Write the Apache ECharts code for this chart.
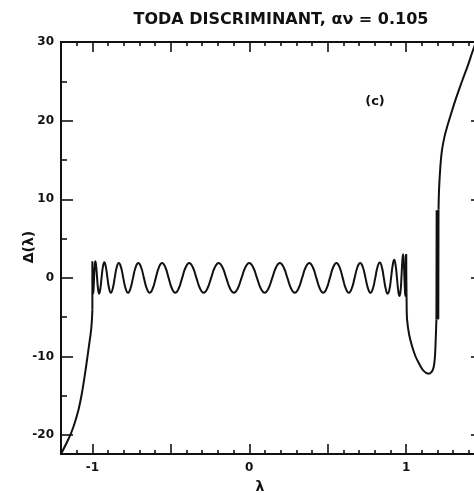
<!DOCTYPE html>
<html>
<head>
<meta charset="utf-8">
<script src="https://cdn.jsdelivr.net/npm/echarts@6/dist/echarts.min.js"></script>
<style>
  html, body { margin: 0; padding: 0; background: #fff; }
  #chart { width: 474px; height: 495px; }
</style>
</head>
<body>
<div id="chart"></div>
<script>
// Axis ranges
const lambdaRange = [-1.2, 1.49];
const deltaRange = [-22.4, 30];

// Tick positions and labels
const xMajorTicks = [-1, -0.5, 0, 0.5, 1];
const xMinorTicks = [-1.1, -0.9, -0.8, -0.7, -0.6, -0.4, -0.3, -0.2, -0.1,
                     0.1, 0.2, 0.3, 0.4, 0.6, 0.7, 0.8, 0.9, 1.1, 1.2, 1.3, 1.4];
const xLabels = [-1, 0, 1];
const yMajorTicks = [-20, -10, 0, 10, 20, 30];
const yMinorTicks = [-15, -5, 5, 15, 25];
const yLabels = [-20, -10, 0, 10, 20, 30];

// Δ(λ) below the band edge λ = -1
const leftBranch = [
  [-1.2, -22.4], [-1.15, -20.4], [-1.12, -18.9], [-1.09, -16.9], [-1.068, -14.8],
  [-1.05, -12.6], [-1.036, -10.7], [-1.02, -8.4], [-1.008, -6.6], [-1.002, -5.0],
  [-1.0, -4.0]
];

// Δ(λ) inside the band, -1 < λ < 1
const bandOscillation = [
  [-1.0, -4.0], [-1.0, 2.1], [-0.9997, 1.45], [-0.9988, 0], [-0.9973, -1.45],
  [-0.9952, -2.0], [-0.9925, -1.45], [-0.9892, 0], [-0.9853, 1.45], [-0.9808, 2.1],
  [-0.9757, 1.45], [-0.9700, 0], [-0.9638, -1.4], [-0.9569, -2.0], [-0.9495, -1.4],
  [-0.9415, 0], [-0.9330, 1.4], [-0.9239, 2.0], [-0.9142, 1.4], [-0.9040, 0],
  [-0.8932, -1.35], [-0.8819, -1.9], [-0.8701, -1.35], [-0.8577, 0], [-0.8449, 1.35],
  [-0.8315, 1.9], [-0.8176, 1.35], [-0.8032, 0], [-0.7883, -1.35], [-0.7730, -1.9],
  [-0.7572, -1.35], [-0.7410, 0], [-0.7242, 1.35], [-0.7071, 1.9], [-0.6895, 1.35],
  [-0.6716, 0], [-0.6532, -1.35], [-0.6344, -1.9], [-0.6152, -1.35], [-0.5957, 0],
  [-0.5758, 1.35], [-0.5556, 1.9], [-0.5350, 1.35], [-0.5141, 0], [-0.4929, -1.35],
  [-0.4714, -1.9], [-0.4496, -1.35], [-0.4276, 0], [-0.4052, 1.35], [-0.3827, 1.9],
  [-0.3599, 1.35], [-0.3369, 0], [-0.3137, -1.35], [-0.2903, -1.9], [-0.2667, -1.35],
  [-0.2430, 0], [-0.2191, 1.35], [-0.1951, 1.9], [-0.1710, 1.35], [-0.1467, 0],
  [-0.1224, -1.35], [-0.0980, -1.9], [-0.0736, -1.35], [-0.0491, 0], [-0.0245, 1.35],
  [0.0, 1.9],
  [0.0245, 1.35], [0.0491, 0], [0.0736, -1.35], [0.0980, -1.9], [0.1224, -1.35],
  [0.1467, 0], [0.1710, 1.35], [0.1951, 1.9], [0.2191, 1.35], [0.2430, 0],
  [0.2667, -1.35], [0.2903, -1.9], [0.3137, -1.35], [0.3369, 0], [0.3599, 1.35],
  [0.3827, 1.9], [0.4052, 1.35], [0.4276, 0], [0.4496, -1.35], [0.4714, -1.9],
  [0.4929, -1.35], [0.5141, 0], [0.5350, 1.35], [0.5556, 1.9], [0.5758, 1.35],
  [0.5957, 0], [0.6152, -1.35], [0.6344, -1.9], [0.6532, -1.35], [0.6716, 0],
  [0.6895, 1.35], [0.7071, 1.9], [0.7242, 1.35], [0.7410, 0], [0.7572, -1.35],
  [0.7730, -1.9], [0.7883, -1.35], [0.8032, 0], [0.8176, 1.38], [0.8315, 1.95],
  [0.8449, 1.4], [0.8577, 0], [0.8701, -1.4], [0.8819, -2.0], [0.8932, -1.5],
  [0.9040, 0], [0.9142, 1.6], [0.9239, 2.3], [0.9330, 1.6], [0.9415, 0],
  [0.9495, -1.6], [0.9569, -2.3], [0.9638, -1.8], [0.9700, 0], [0.9757, 2.1],
  [0.9808, 3.0], [0.9853, 2.1], [0.9892, 0], [0.9925, -1.6], [0.9952, -2.3],
  [0.9973, -1.6], [0.9988, 0], [0.9997, 2.1], [1.0, 3.0]
];

// Dip above the band edge λ = 1
const rightDip = [
  [1.0, 3.0], [1.003, -3.0], [1.006, -5.3], [1.02, -7.3], [1.038, -8.7],
  [1.06, -10.0], [1.08, -10.8], [1.11, -11.8], [1.144, -12.2], [1.165, -11.9],
  [1.176, -11.3], [1.183, -10.2], [1.187, -8.7], [1.193, -5.3]
];

// Rapid swings near λ ≈ 1.2
const rightSpike = [
  [1.193, -5.3], [1.1945, 8.6], [1.196, -5.3], [1.1975, 8.6], [1.199, -5.3],
  [1.2005, 8.6], [1.202, -5.3], [1.2035, 8.6], [1.205, -5.2], [1.2065, 8.7]
];

// Rise towards the top of the frame
const rightRise = [
  [1.2065, 8.7], [1.209, 10.8], [1.213, 12.5], [1.22, 14.6], [1.229, 16.3],
  [1.245, 18.0], [1.261, 19.2], [1.29, 21.1], [1.314, 22.6], [1.34, 24.1],
  [1.367, 25.6], [1.395, 27.1], [1.42, 28.6], [1.445, 30.0]
];

const ink = '#111';
const font = 'DejaVu Sans';

function xAxis(position, ticks, len, labels) {
  return {
    type: 'value', position: position, gridIndex: 0,
    min: lambdaRange[0], max: lambdaRange[1],
    axisLine: { show: true, onZero: false, lineStyle: { color: ink, width: 2 } },
    axisTick: { show: true, inside: true, length: len, customValues: ticks,
                lineStyle: { color: ink, width: 1.6 } },
    axisLabel: labels ? {
      show: true, customValues: labels, margin: 8, color: ink,
      fontFamily: font, fontWeight: 'bold', fontSize: 12,
      formatter: v => String(v)
    } : { show: false },
    splitLine: { show: false }
  };
}

function yAxis(position, ticks, len, labels) {
  return {
    type: 'value', position: position, gridIndex: 0,
    min: deltaRange[0], max: deltaRange[1],
    axisLine: { show: true, onZero: false, lineStyle: { color: ink, width: 2 } },
    axisTick: { show: true, inside: true, length: len, customValues: ticks,
                lineStyle: { color: ink, width: 1.6 } },
    axisLabel: labels ? {
      show: true, customValues: labels, margin: 7, color: ink,
      fontFamily: font, fontWeight: 'bold', fontSize: 12,
      formatter: v => String(v)
    } : { show: false },
    splitLine: { show: false }
  };
}

function curve(data, smooth) {
  return {
    type: 'line', data: data, xAxisIndex: 0, yAxisIndex: 0,
    smooth: smooth, symbol: 'none', clip: true, silent: true,
    lineStyle: { color: ink, width: 2 }
  };
}

const chart = echarts.init(document.getElementById('chart'), null, { renderer: 'canvas' });
chart.setOption({
  animation: false,
  backgroundColor: '#fff',
  grid: { left: 61, top: 42, right: -9, bottom: 41, containLabel: false, outerBoundsMode: 'none' },
  xAxis: [
    xAxis('bottom', xMinorTicks, 4, xLabels),
    xAxis('bottom', xMajorTicks, 10, null),
    xAxis('top', xMinorTicks, 4, null),
    xAxis('top', xMajorTicks, 10, null)
  ],
  yAxis: [
    yAxis('left', yMajorTicks, 12, yLabels),
    yAxis('left', yMinorTicks, 6, null),
    yAxis('right', yMajorTicks, 12, null)
  ],
  series: [
    curve(leftBranch, 0.3),
    curve(bandOscillation, 0.5),
    curve(rightDip, 0.3),
    curve(rightSpike, false),
    curve(rightRise, 0.3)
  ],
  graphic: [
    { type: 'text', x: 281, y: 20, style: {
        text: 'TODA DISCRIMINANT, αν = 0.105', fill: ink,
        font: 'bold 16px "DejaVu Sans"', align: 'center', verticalAlign: 'middle' } },
    { type: 'text', x: 375, y: 102, style: {
        text: '(c)', fill: ink,
        font: 'bold 13px "DejaVu Sans"', align: 'center', verticalAlign: 'middle' } },
    { type: 'text', x: 260, y: 487, style: {
        text: 'λ', fill: ink,
        font: 'bold 14px "DejaVu Sans"', align: 'center', verticalAlign: 'middle' } },
    { type: 'text', x: 29, y: 247, rotation: Math.PI / 2, style: {
        text: 'Δ(λ)', fill: ink,
        font: 'bold 14px "DejaVu Sans"', align: 'center', verticalAlign: 'middle' } }
  ]
});
</script>
</body>
</html>
